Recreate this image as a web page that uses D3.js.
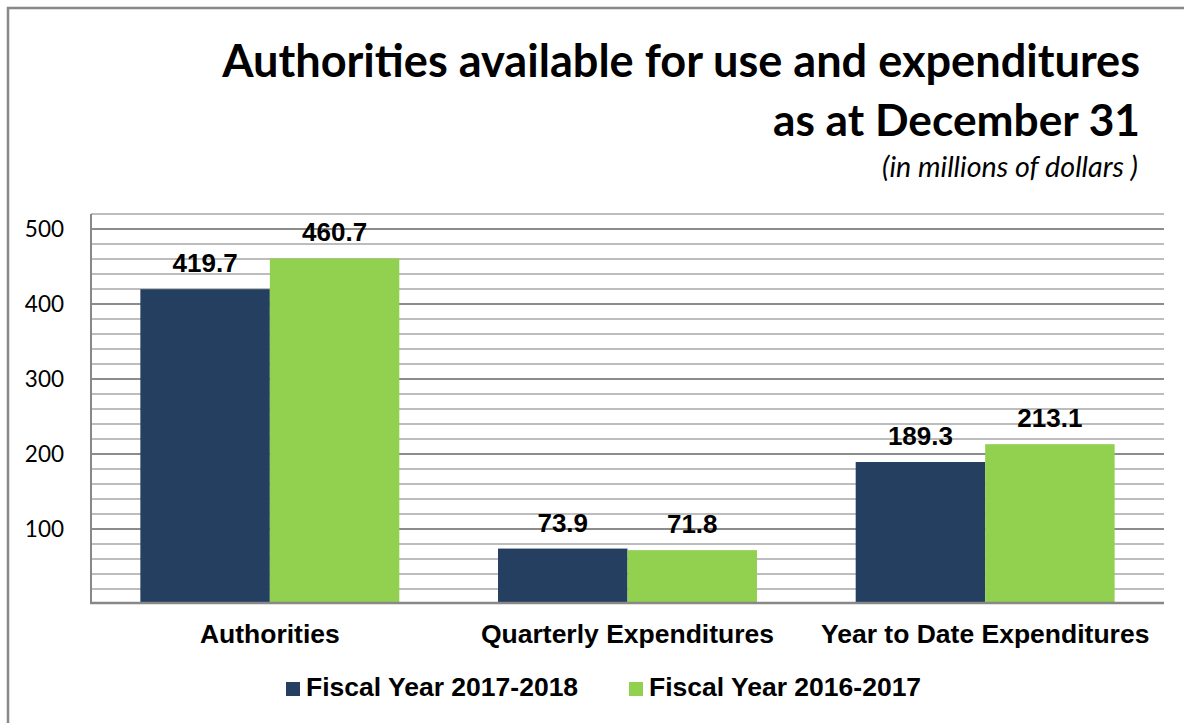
<!DOCTYPE html>
<html>
<head>
<meta charset="utf-8">
<script src="https://cdn.jsdelivr.net/npm/d3@7"></script>
<style>
  body { margin: 0; background: #fff; }
  svg { display: block; }
</style>
</head>
<body>
<svg id="chart" width="1184" height="723"></svg>
<script>
// chart data
var categories = ["Authorities", "Quarterly Expenditures", "Year to Date Expenditures"];
var seriesNames = ["Fiscal Year 2017-2018", "Fiscal Year 2016-2017"];
var fy2018 = [419.7, 73.9, 189.3];
var fy2017 = [460.7, 71.8, 213.1];
var yTicks = [100, 200, 300, 400, 500];
var colors = ["#253f60", "#92d050"];

var svg = d3.select("#chart");
var W = 1184, H = 723;

// outer frame (only top + left visible in the picture)
svg.append("rect")
    .attr("x", 8).attr("y", 8)
    .attr("width", W + 20).attr("height", H + 20)
    .style("fill", "none")
    .style("stroke", "#888")
    .style("stroke-width", 2.5);

var plot = {left: 91, right: 1164, top: 214, bottom: 604};

var y = d3.scaleLinear().domain([0, 520]).range([plot.bottom, plot.top]);

var x = d3.scaleBand()
    .domain(categories)
    .range([plot.left, plot.right])
    .paddingInner(0.276)
    .paddingOuter(0.138);

var xs = d3.scaleBand().domain(seriesNames).range([0, x.bandwidth()]);

// gridlines, every 20, darker every 100
var grid = d3.range(20, 521, 20);
svg.append("g").selectAll("line")
    .data(grid)
    .enter().append("line")
    .attr("x1", plot.left).attr("x2", plot.right)
    .attr("y1", function(d) { return y(d); })
    .attr("y2", function(d) { return y(d); })
    .style("stroke", function(d) { return d % 100 == 0 ? "#8c8c8c" : "#bdbdbd"; })
    .style("stroke-width", 2);

// y tick labels
svg.append("g").selectAll("text")
    .data(yTicks)
    .enter().append("text")
    .attr("x", 64)
    .attr("y", function(d) { return y(d); })
    .attr("dy", "0.36em")
    .attr("text-anchor", "end")
    .text(function(d) { return d; })
    .style("font-family", "Lato, 'Open Sans', sans-serif")
    .style("font-size", "22.5px")
    .style("fill", "#000");

// bars
var rows = categories.map(function(c, i) {
    return {cat: c, vals: [fy2018[i], fy2017[i]]};
});

var groups = svg.append("g").selectAll("g")
    .data(rows)
    .enter().append("g")
    .attr("transform", function(d) { return "translate(" + x(d.cat) + ",0)"; });

groups.selectAll("rect")
    .data(function(d) { return d.vals.map(function(v, j) { return {s: seriesNames[j], v: v, j: j}; }); })
    .enter().append("rect")
    .attr("x", function(d) { return xs(d.s); })
    .attr("width", xs.bandwidth())
    .attr("y", function(d) { return y(d.v); })
    .attr("height", function(d) { return y(0) - y(d.v); })
    .style("fill", function(d) { return colors[d.j]; });

groups.selectAll("text")
    .data(function(d) { return d.vals.map(function(v, j) { return {s: seriesNames[j], v: v}; }); })
    .enter().append("text")
    .attr("x", function(d) { return xs(d.s) + xs.bandwidth() / 2; })
    .attr("y", function(d) { return y(d.v) - 17; })
    .attr("text-anchor", "middle")
    .text(function(d) { return d.v.toFixed(1); })
    .style("font-family", "'Liberation Sans', Arial, sans-serif")
    .style("font-weight", "bold")
    .style("font-size", "26px");

// axes lines
svg.append("line")
    .attr("x1", plot.left).attr("x2", plot.left)
    .attr("y1", plot.top).attr("y2", plot.bottom)
    .style("stroke", "#888").style("stroke-width", 2);
svg.append("line")
    .attr("x1", plot.left - 1).attr("x2", plot.right)
    .attr("y1", plot.bottom - 1).attr("y2", plot.bottom - 1)
    .style("stroke", "#888").style("stroke-width", 2.5);

// category labels
svg.append("g").selectAll("text")
    .data(categories)
    .enter().append("text")
    .attr("x", function(d) { return x(d) + x.bandwidth() / 2; })
    .attr("y", 643)
    .attr("text-anchor", "middle")
    .text(function(d) { return d; })
    .style("font-family", "'Liberation Sans', Arial, sans-serif")
    .style("font-weight", "bold")
    .style("font-size", "26.5px");

// title, fitted to the width in the picture
function fitText(sel, width) {
    var w = sel.node().getComputedTextLength();
    var fs = parseFloat(sel.style("font-size"));
    sel.style("font-size", (fs * width / w) + "px");
}

var t1 = svg.append("text")
    .attr("x", 1140).attr("y", 77)
    .attr("text-anchor", "end")
    .text("Authorities available for use and expenditures")
    .style("font-family", "Lato, sans-serif")
    .style("font-weight", "bold")
    .style("font-size", "44px");
fitText(t1, 918);

var t2 = svg.append("text")
    .attr("x", 1140).attr("y", 136)
    .attr("text-anchor", "end")
    .text("as at December 31")
    .style("font-family", "Lato, sans-serif")
    .style("font-weight", "bold")
    .style("font-size", t1.style("font-size"));
fitText(t2, 367);

var sub = svg.append("text")
    .attr("x", 1138).attr("y", 177)
    .attr("text-anchor", "end")
    .text("(in millions of dollars )")
    .style("font-family", "Lato, sans-serif")
    .style("font-style", "italic")
    .style("font-size", "22px");
fitText(sub, 256);

// legend
var legendX = [286, 629];
var legend = svg.append("g").selectAll("g")
    .data(seriesNames)
    .enter().append("g")
    .attr("transform", function(d, i) { return "translate(" + legendX[i] + ",682)"; });

legend.append("rect")
    .attr("width", 14).attr("height", 14)
    .style("fill", function(d, i) { return colors[i]; });

legend.append("text")
    .attr("x", 20).attr("y", 14)
    .text(function(d) { return d; })
    .style("font-family", "'Liberation Sans', Arial, sans-serif")
    .style("font-weight", "bold")
    .style("font-size", "26.5px");
</script>
</body>
</html>
